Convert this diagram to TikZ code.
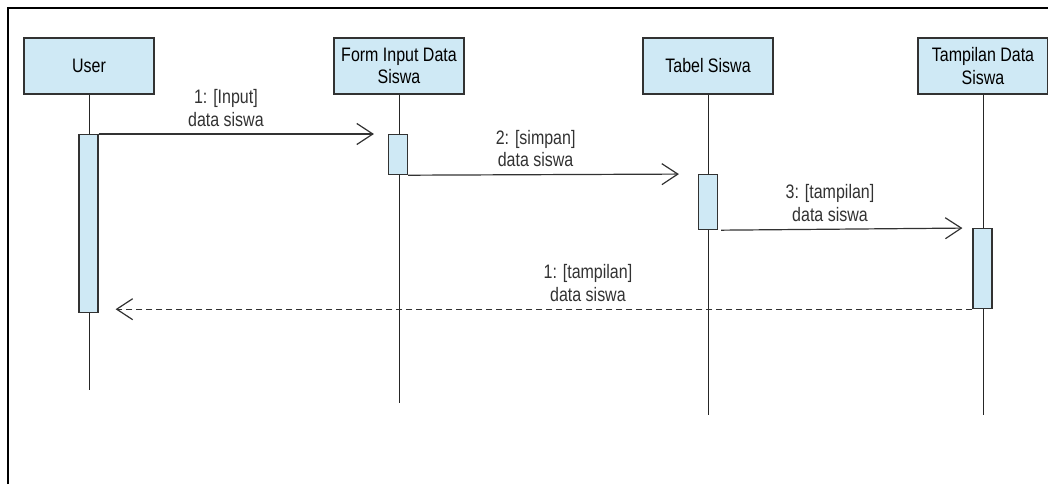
\documentclass[tikz,border=0pt]{standalone}
\usepackage{fontspec}
\setmainfont{Liberation Sans}[FakeStretch=0.82]
\usepackage{tikz}
\usetikzlibrary{arrows.meta}
\usepackage{xcolor}
\definecolor{boxfill}{RGB}{207,233,245}
\definecolor{boxline}{RGB}{50,50,50}

\begin{document}
\begin{tikzpicture}[x=1pt, y=-1pt, font=\fontsize{19.5}{22.5}\selectfont,
		>={Straight Barb[length=16pt,width=21pt]},
		head/.style={draw=boxline, fill=boxfill, line width=1.3pt, minimum width=130pt, minimum height=56pt, align=center, inner sep=0pt},
		act/.style={draw=boxline, fill=boxfill, line width=1.2pt, minimum width=19pt, inner sep=0pt, anchor=north},
		life/.style={black!85, line width=1pt},
		msg/.style={boxline, line width=1.2pt, ->},
		lbl/.style={pos=0.44, above=7pt, align=center, inner sep=0pt}]
				    		\useasboundingbox (0,0) rectangle (1048,484);
				    		\draw[black, line width=2pt] (8,484)--(8,8)--(1048,8);
				    		\node[head] (user) at (89,66) {User};
				    		\node[head] (form) at (399,66) {Form Input Data\\Siswa};
				    		\node[head] (tabel) at (708,66) {Tabel Siswa};
				    		\node[head] (tampil) at (983,66) {Tampilan Data\\Siswa};
				    		\coordinate (userEnd) at (89,390);
				    		\coordinate (formEnd) at (399,403);
				    		\coordinate (tabelEnd) at (708,415);
				    		\coordinate (tampilEnd) at (983,415);
				    		\draw[life] (user)--(userEnd);
				    		\draw[life] (form)--(formEnd);
				    		\draw[life] (tabel)--(tabelEnd);
				    		\draw[life] (tampil)--(tampilEnd);
				    		\node[act, minimum height=178pt] (userAct) at (88.5,134) {};
				    		\node[act, minimum height=40pt] (formAct) at (398,134) {};
				    		\node[act, minimum height=55pt] (tabelAct) at (708,174) {};
				    		\node[act, minimum height=80pt] (tampilAct) at (982.5,228) {};
				    		\draw[msg, shorten >=14pt] (userAct.north east)--node[lbl] {1: [Input]\\data siswa} (formAct.north west);
				    		\draw[msg, shorten >=19pt] (formAct.south east)--node[lbl] {2: [simpan]\\data siswa} (tabelAct.north west);
				    		\draw[msg, shorten <=3pt, shorten >=10pt] (tabelAct.south east)--node[lbl] {3: [tampilan]\\data siswa} (tampilAct.north west);
				    		\draw[msg, dash pattern=on 6pt off 4pt, shorten >=17pt] (tampilAct.south west)--node[lbl] {1: [tampilan]\\data siswa} (userAct.east |- tampilAct.south west);
				    	\end{tikzpicture}
\end{document}
